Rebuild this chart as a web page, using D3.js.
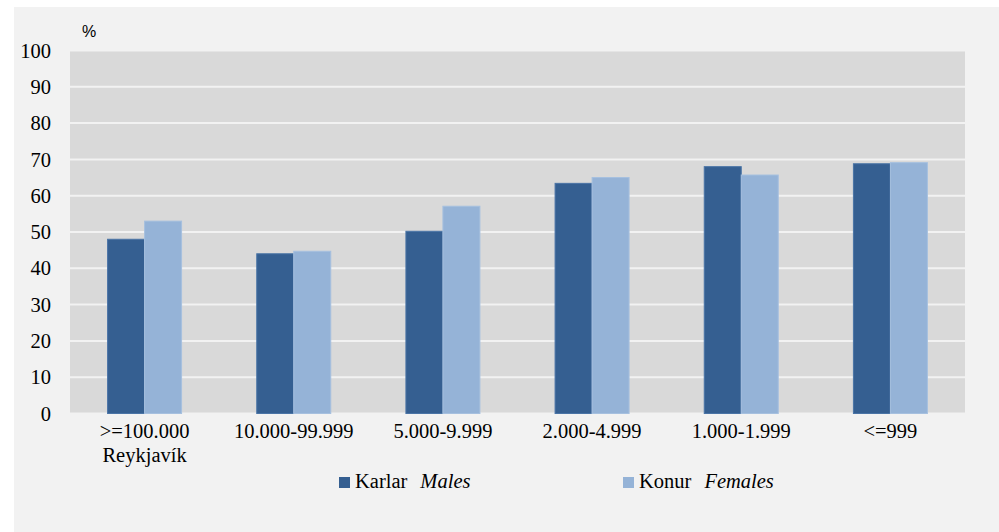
<!DOCTYPE html>
<html><head><meta charset="utf-8">
<script src="https://cdn.jsdelivr.net/npm/d3@7"></script>
<style>
html,body{margin:0;padding:0;background:#ffffff;}
svg{display:block;}
.serif{font-family:"Liberation Serif","Times New Roman",Tinos,"DejaVu Serif",serif;}
</style></head>
<body>
<script>
const categories = [">=100.000|Reykjavík", "10.000-99.999", "5.000-9.999", "2.000-4.999", "1.000-1.999", "<=999"];
const males = [48.0, 44.0, 50.2, 63.4, 68.0, 68.8];
const females = [53.0, 44.7, 57.1, 65.0, 65.7, 69.1];
const yTicks = [0, 10, 20, 30, 40, 50, 60, 70, 80, 90, 100];
const seriesNames = [["Karlar", "Males"], ["Konur", "Females"]];
const colors = ["#355f91", "#95b3d7"];

(function () {
const W = 999, H = 532;
const svg = d3.select("body").append("svg").attr("width", W).attr("height", H);
svg.append("rect").attr("x", 14).attr("y", 7).attr("width", W - 14).attr("height", H - 7).attr("fill", "#f2f2f2");

const pL = 70, pR = 965, pT = 50.5, pB = 413.5;
svg.append("rect").attr("x", pL).attr("y", pT).attr("width", pR - pL).attr("height", pB - pT).attr("fill", "#d9d9d9");

const y = d3.scaleLinear().domain([0, 100]).range([pB, pT]);
const x = d3.scaleBand().domain(categories).range([pL, pR]).padding(0);

svg.append("g").selectAll("line").data(yTicks).join("line")
  .attr("x1", pL).attr("x2", pR)
  .attr("y1", d => y(d)).attr("y2", d => y(d))
  .attr("stroke", "#f2f2f2").attr("stroke-width", 2);

svg.append("g").selectAll("text").data(yTicks).join("text")
  .attr("class", "serif")
  .attr("x", 51).attr("y", d => y(d)).attr("dy", "0.35em")
  .attr("text-anchor", "end").attr("font-size", 20.5)
  .attr("fill", "#000").text(d => d);

svg.append("text").attr("x", 82).attr("y", 37).style("font-family", "'Liberation Sans',Arial,sans-serif")
  .attr("font-size", 16).attr("fill", "#000").text("%");

const bw = 37;
const gBars = svg.append("g");
categories.forEach((c, i) => {
  const cx = x(c) + x.bandwidth() / 2;
  [males[i], females[i]].forEach((v, s) => {
    gBars.append("rect")
      .attr("x", cx - bw + s * bw).attr("y", y(v))
      .attr("width", bw).attr("height", y(0) - y(v))
      .attr("fill", colors[s])
      .attr("stroke", s === 0 ? "#4a74a6" : "#a6c0df").attr("stroke-width", 1);
  });
});

categories.forEach(c => {
  const cx = x(c) + x.bandwidth() / 2;
  c.split("|").forEach((l, k) => {
    svg.append("text").attr("class", "serif").attr("x", cx).attr("y", 438 + k * 24)
      .attr("text-anchor", "middle").attr("font-size", 20.5)
      .attr("fill", "#000").text(l);
  });
});

const legX = [339, 623];
seriesNames.forEach((n, s) => {
  svg.append("rect").attr("x", legX[s]).attr("y", 477).attr("width", 11).attr("height", 11).attr("fill", colors[s]);
  const t = svg.append("text").attr("class", "serif").attr("x", legX[s] + 16).attr("y", 488)
    .attr("font-size", 20.5).attr("fill", "#000");
  t.append("tspan").text(n[0]);
  t.append("tspan").attr("font-style", "italic").attr("dx", 13).text(n[1]);
});
})();
</script>
</body></html>
